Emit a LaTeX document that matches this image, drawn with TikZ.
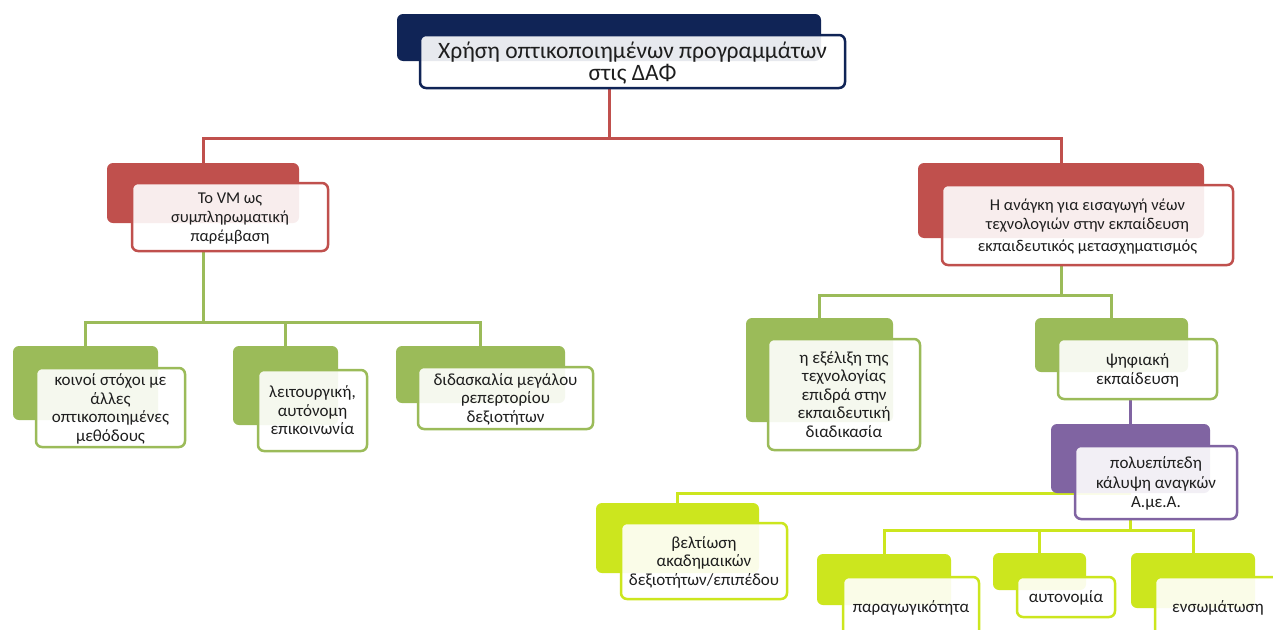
\documentclass[tikz,border=0pt]{standalone}
\usepackage{fontspec}
\setmainfont{Carlito}

\definecolor{navy}{RGB}{16,36,86}
\definecolor{brick}{RGB}{192,80,77}
\definecolor{olive}{RGB}{155,187,89}
\definecolor{plum}{RGB}{128,100,162}
\definecolor{lime}{RGB}{204,230,30}
\definecolor{ink}{RGB}{30,30,30}

\pgfdeclarelayer{links}
\pgfsetlayers{links,main}

\tikzset{
  backbox/.style={fill=#1, draw=none, rounded corners=6pt, inner sep=0pt},
  frontbox/.style={draw=#1, line width=2.5pt, fill=white, fill opacity=0.9,
    text opacity=1, rounded corners=6pt, inner sep=0pt, align=center,
    text=ink, text depth=0pt},
  link/.style={draw=#1, line width=3pt},
  txtA/.style={font=\fontsize{23.5}{22}\selectfont},
  txtB/.style={font=\fontsize{16.5}{19}\selectfont},
  txtC/.style={font=\fontsize{16.5}{19}\selectfont},
  txtD/.style={font=\fontsize{17}{18.5}\selectfont},
  txtE/.style={font=\fontsize{17}{19.5}\selectfont},
}

% a card: coloured block behind, outlined white block in front carrying the text
% #1 name, #2 colour, #3 back centre, #4 back size (w/h),
% #5 front centre, #6 front size (w/h), #7 text style, #8 text
\def\cardsize#1/#2\relax{minimum width=#1pt, minimum height=#2pt}
\newcommand\card[8]{%
  \edef\backsz{\cardsize#4\relax}%
  \edef\frontsz{\cardsize#6\relax}%
  \expandafter\node\expandafter[\backsz, backbox=#2] (#1b) at (#3) {};
  \expandafter\node\expandafter[\frontsz, frontbox=#2, #7] (#1) at (#5) {#8};
}

\begin{document}
\begin{tikzpicture}[x=1pt, y=-1pt]
  \useasboundingbox (0,0) rectangle (1273,629);
  \clip (0,0) rectangle (1273,629);

  % root
  \card{top}{navy}{609,37.5}{424/47}{632.5,61.5}{425/53}{txtA}%
    {Χρήση οπτικοποιημένων προγραμμάτων\\στις ΔΑΦ}

  % second level
  \card{redL}{brick}{203,193}{192/60}{230,217}{196/68}{txtB}%
    {Το VM ως\\συμπληρωματική\\παρέμβαση}
  \card{redR}{brick}{1061,200.5}{286/75}{1087.5,225}{291/80}{txtC}%
    {Η ανάγκη για εισαγωγή νέων\\τεχνολογιών στην εκπαίδευση\\[3pt]εκπαιδευτικός μετασχηματισμός}

  % third level, left branch
  \card{gA}{olive}{85.5,383}{145/74}{110.5,407.5}{149/79}{txtD}%
    {κοινοί στόχοι με\\άλλες\\οπτικοποιημένες\\μεθόδους}
  \card{gB}{olive}{285.5,385.5}{105/79}{312.5,410.5}{109/81}{txtD}%
    {λειτουργική,\\αυτόνομη\\επικοινωνία}
  \card{gC}{olive}{480.5,374.5}{169/57}{505.5,398}{175/62}{txtD}%
    {διδασκαλία μεγάλου\\ρεπερτορίου\\δεξιοτήτων}

  % third level, right branch
  \card{evol}{olive}{819.5,370}{147/104}{844,394.5}{152/111}{txtD}%
    {η εξέλιξη της\\τεχνολογίας\\επιδρά στην\\εκπαιδευτική\\διαδικασία}
  \card{psi}{olive}{1111.5,345}{153/54}{1137.5,369}{159/60}{txtD}%
    {ψηφιακή\\εκπαίδευση}

  % fourth level
  \card{needs}{plum}{1130.5,458.5}{159/69}{1156,482.5}{162/73}{txtE}%
    {πολυεπίπεδη\\κάλυψη αναγκών\\Α.με.Α.}

  % fifth level
  \card{belt}{lime}{677.5,538}{163/70}{704,561}{166/76}{txtD}%
    {βελτίωση\\ακαδημαικών\\δεξιοτήτων/επιπέδου}
  \card{prod}{lime}{884,579.5}{134/51}{911,607}{136/60}{txtD}%
    {παραγωγικότητα}
  \card{auto}{lime}{1039.5,571.5}{93/37}{1066,597}{98/40}{txtD}%
    {αυτονομία}
  \card{ens}{lime}{1193,580.5}{124/55}{1218,607}{126/60}{txtD}%
    {ενσωμάτωση}

  % connectors, kept beneath the cards
  \begin{pgfonlayer}{links}
    \fill[white] (0,0) rectangle (1273,629);

    \draw[link=brick] (topb.center |- top.south) -- (topb.center |- 0,138)
      coordinate (jr) -| (redLb.north);
    \draw[link=brick] (jr) -| (redRb.north);

    \draw[link=olive] (redLb.center |- redL.south) -- (redLb.center |- 0,322)
      coordinate (jgl) -| (gAb.north);
    \draw[link=olive] (jgl) -| (gBb.north);
    \draw[link=olive] (jgl) -| (gCb.north);

    \draw[link=olive] (redRb.center |- redR.south) -- (redRb.center |- 0,295)
      coordinate (jgr) -| (evolb.north);
    \draw[link=olive] (jgr) -| (psib.north);

    \draw[link=plum] (needsb.north |- psi.south) -- (needsb.north);

    \draw[link=lime] (needsb.center |- 0,493) -| (beltb.north);
    \draw[link=lime] (needsb.center |- needs.south) -- (needsb.center |- 0,530)
      coordinate (jl) -| (prodb.north);
    \draw[link=lime] (jl) -| (autob.north);
    \draw[link=lime] (jl) -| (ensb.north);
  \end{pgfonlayer}
\end{tikzpicture}
\end{document}
